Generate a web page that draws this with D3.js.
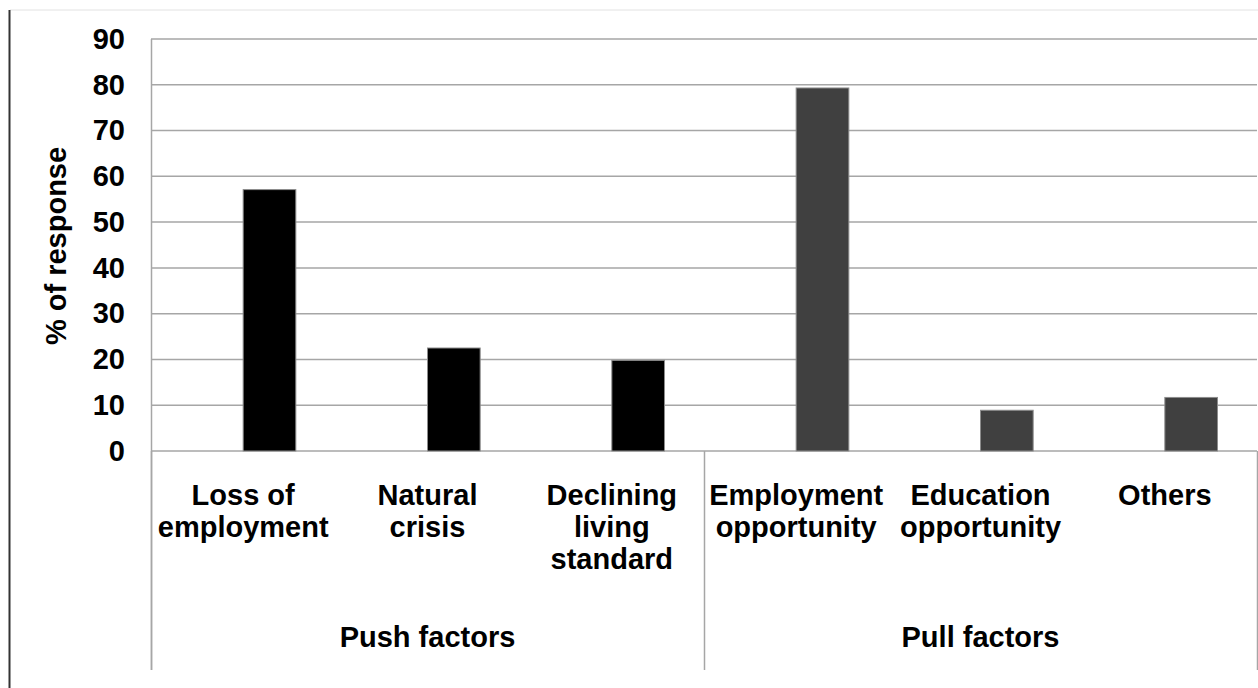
<!DOCTYPE html>
<html>
<head>
<meta charset="utf-8">
<script src="https://cdn.jsdelivr.net/npm/d3@7"></script>
<style>
  html, body { margin: 0; padding: 0; background: #fff; }
  svg { display: block; }
  text { font-family: "Liberation Sans", Arial, sans-serif; font-weight: bold; fill: #000; }
</style>
</head>
<body>
<svg id="chart"></svg>
<script>
// Dati
const categories = [
  ["Loss of", "employment"],
  ["Natural", "crisis"],
  ["Declining", "living", "standard"],
  ["Employment", "opportunity"],
  ["Education", "opportunity"],
  ["Others"]
];
const groups = ["Push factors", "Pull factors"];
const groupOf = [0, 0, 0, 1, 1, 1];
const values = [57.1, 22.5, 19.8, 79.3, 8.9, 11.7];
const yTicks = [0, 10, 20, 30, 40, 50, 60, 70, 80, 90];
const barColors = ["#000000", "#404040"];

const width = 1258, height = 688;
const margin = { top: 39, right: 1, bottom: 237, left: 151 };
const plotBottom = height - margin.bottom;   // linea dello zero
const fontSize = 29;

const svg = d3.select("#chart")
  .attr("width", width)
  .attr("height", height);

// cornice dell'immagine originale
svg.append("line")
  .attr("x1", 10).attr("y1", 10).attr("x2", width).attr("y2", 10)
  .attr("stroke", "#e2e2e2").attr("stroke-width", 1);
svg.append("line")
  .attr("x1", 9.5).attr("y1", 10).attr("x2", 9.5).attr("y2", height)
  .attr("stroke", "#333").attr("stroke-width", 2);

const idx = d3.range(categories.length);

const x = d3.scaleBand()
  .domain(idx)
  .range([margin.left, width - margin.right])
  .padding(0);

// Excel: due slot per categoria (gap 150%), le barre stanno nel secondo
const slot = d3.scaleBand()
  .domain([0, 1])
  .range([0, x.bandwidth()])
  .paddingInner(0)
  .paddingOuter(0.75);

const y = d3.scaleLinear()
  .domain([0, 90])
  .range([plotBottom, margin.top]);

// griglia orizzontale
svg.append("g")
  .selectAll("line")
  .data(yTicks)
  .join("line")
  .attr("x1", margin.left)
  .attr("x2", width - margin.right)
  .attr("y1", d => y(d))
  .attr("y2", d => y(d))
  .attr("stroke", "#a6a6a6")
  .attr("stroke-width", 1.5);

// asse Y
const yAxis = svg.append("g")
  .attr("transform", `translate(${margin.left},0)`)
  .call(d3.axisLeft(y).tickValues(yTicks).tickSize(0).tickPadding(26));
yAxis.select(".domain")
  .attr("stroke", "#a6a6a6")
  .attr("stroke-width", 1.5)
  .attr("d", `M0.5,${margin.top}V670`);
yAxis.selectAll("text")
  .attr("font-size", fontSize)
  .attr("font-family", "Liberation Sans, Arial, sans-serif")
  .attr("font-weight", "bold")
  .attr("fill", "#000");

// titolo asse Y
svg.append("text")
  .attr("transform", `translate(66,246) rotate(-90)`)
  .attr("text-anchor", "middle")
  .attr("font-size", fontSize)
  .text("% of response");

// barre
svg.append("g")
  .selectAll("rect")
  .data(idx)
  .join("rect")
  .attr("x", i => x(i) + slot(1))
  .attr("width", slot.bandwidth())
  .attr("y", i => y(values[i]))
  .attr("height", i => y(0) - y(values[i]))
  .attr("fill", i => barColors[groupOf[i]])
  .attr("stroke", "#8c8c8c")
  .attr("stroke-width", 1);

// separatore tra i gruppi
const groupEdges = [0, 3, 6];
svg.append("g")
  .selectAll("line")
  .data(groupEdges)
  .join("line")
  .attr("x1", i => (i < 6 ? x(i) : width - margin.right) + 0.5)
  .attr("x2", i => (i < 6 ? x(i) : width - margin.right) + 0.5)
  .attr("y1", plotBottom)
  .attr("y2", 670)
  .attr("stroke", "#a6a6a6")
  .attr("stroke-width", 1.5);

// etichette categorie
const catLabels = svg.append("g")
  .selectAll("text")
  .data(idx)
  .join("text")
  .attr("text-anchor", "middle")
  .attr("font-size", fontSize)
  .attr("y", 505);
catLabels.selectAll("tspan")
  .data(i => categories[i].map(t => ({ t, i })))
  .join("tspan")
  .attr("x", d => x(d.i) + x.bandwidth() / 2)
  .attr("dy", (d, k) => k === 0 ? 0 : 32)
  .text(d => d.t);

// etichette gruppi
svg.append("g")
  .selectAll("text")
  .data(groups)
  .join("text")
  .attr("text-anchor", "middle")
  .attr("font-size", fontSize)
  .attr("x", (g, gi) => {
    const first = x(groupEdges[gi]);
    const last = groupEdges[gi + 1] < 6 ? x(groupEdges[gi + 1]) : width - margin.right;
    return (first + last) / 2;
  })
  .attr("y", 647)
  .text(d => d);
</script>
</body>
</html>
